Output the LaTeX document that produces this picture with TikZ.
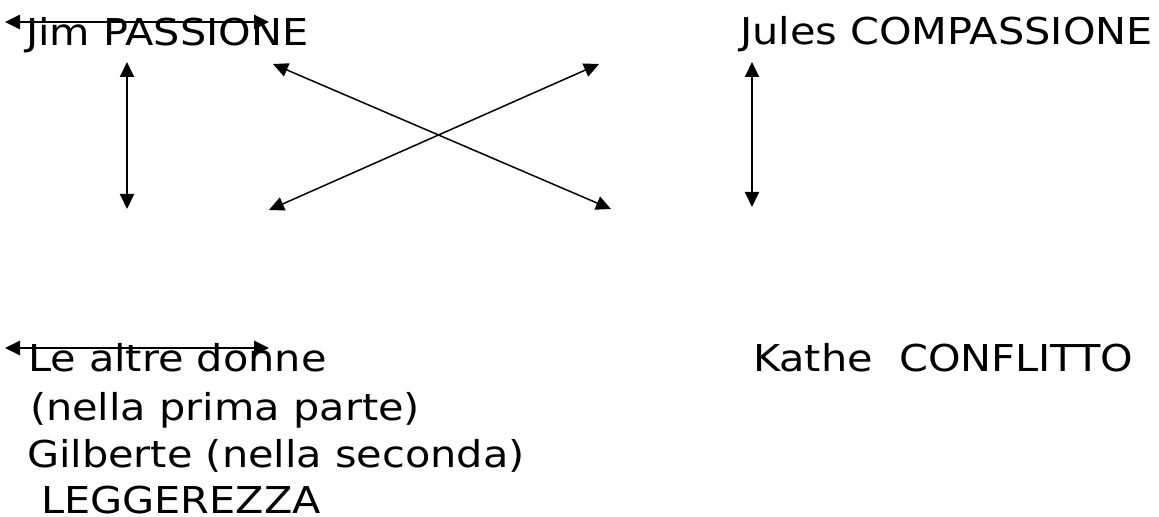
\documentclass[tikz,border=0pt]{standalone}
\usepackage{fontspec}
\setmainfont{DejaVu Sans}[FakeStretch=1.12]
\usetikzlibrary{arrows.meta}
\tikzset{
  label text/.style={anchor=base west, inner sep=0pt, outer sep=0pt,
    font=\fontsize{37bp}{47bp}\selectfont},
  tip/.style={},
  link/.style={line width=2.6bp,
    {Triangle[length=15bp,width=14bp]}-{Triangle[length=15bp,width=14bp]}},
  mid link/.style={link, line width=2bp},
  thin link/.style={link, line width=1.5bp},
}
\begin{document}
\begin{tikzpicture}[x=1bp, y=-1bp]
  \useasboundingbox[fill=white] (0,0) rectangle (1159,517);

  % character names
  \node[label text] (jim)   at (26,46)  {Jim PASSIONE};
  \node[label text] (jules) at (740,45) {Jules COMPASSIONE};
  \node[label text] (donne) at (28,372) {Le altre donne};
  \node[label text] (prima) at (30,420) {(nella prima parte)};
  \node[label text] (gilb)  at (27,467) {Gilberte (nella seconda)};
  \node[label text] (legg)  at (41,513) {LEGGEREZZA};
  \node[label text] (kathe) at (753,372) {Kathe\ \ CONFLITTO};

  % arrow end points
  \coordinate (jimL) at (5,22);    \coordinate (jimR) at (269,22);
  \coordinate (donL) at (5,348);   \coordinate (donR) at (269,348);
  \coordinate (v1t) at (127,62);   \coordinate (v1b) at (127,209);
  \coordinate (v2t) at (752,62);   \coordinate (v2b) at (752,207);
  \coordinate (c1a) at (273,64);   \coordinate (c1b) at (611,209);
  \coordinate (c2a) at (599,64);   \coordinate (c2b) at (269,210);

  % relations
  \draw[link] (jimL) -- (jimR);
  \draw[link] (donL) -- (donR);
  \draw[mid link] (v1t) -- (v1b);
  \draw[mid link] (v2t) -- (v2b);
  \draw[thin link] (c1a) -- (c1b);
  \draw[thin link] (c2a) -- (c2b);
\end{tikzpicture}
\end{document}
